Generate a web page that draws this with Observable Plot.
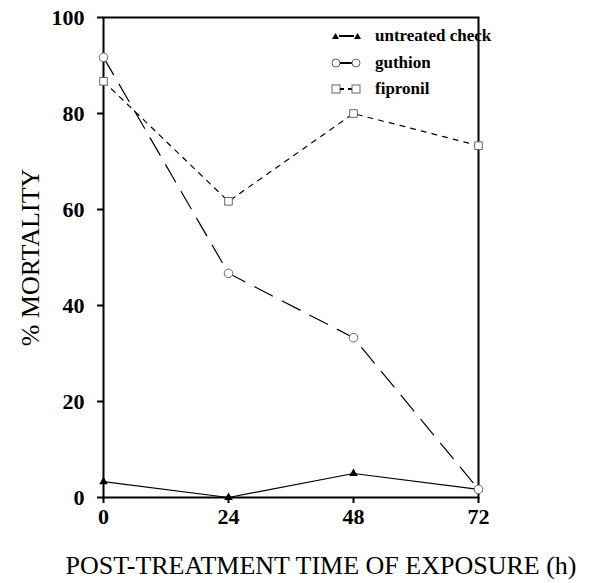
<!DOCTYPE html>
<html><head><meta charset="utf-8">
<script src="https://cdn.jsdelivr.net/npm/d3@7"></script>
<script src="https://cdn.jsdelivr.net/npm/@observablehq/plot@0.6"></script>
<style>
body{margin:0;background:#fff;}
#wrap{position:relative;width:593px;height:583px;font-family:"Liberation Serif","Times New Roman",serif;}
#legend{position:absolute;left:331px;top:23px;font-size:17px;font-weight:bold;color:#000;}
#legend .row{display:flex;align-items:center;height:26.5px;}
#legend svg{margin-right:13px;}
</style></head>
<body><div id="wrap"><div id="legend"></div></div>
<script>
const hours = [0, 24, 48, 72];
const untreated = [3.3, 0, 5.0, 1.7];
const guthion = [91.7, 46.7, 33.3, 1.7];
const fipronil = [86.7, 61.7, 80.0, 73.3];
const yTicks = [0, 20, 40, 60, 80, 100];
const seriesNames = ["untreated check", "guthion", "fipronil"];

const toRows = (vals) => hours.map((h, i) => ({h, v: vals[i]}));
const U = toRows(untreated), G = toRows(guthion), F = toRows(fipronil);

const font = '"Liberation Serif","Times New Roman",serif';
const chart = Plot.plot({
  width: 593, height: 583,
  marginLeft: 103, marginRight: 115, marginTop: 17, marginBottom: 86,
  style: {fontFamily: font, background: "#fff", color: "#000"},
  x: {domain: [0, 72]},
  y: {domain: [0, 100]},
  marks: [
    Plot.frame({stroke: "#000", strokeWidth: 2}),
    Plot.axisY({ticks: yTicks, tickSize: 6, tickPadding: 13, fontSize: 22, fontWeight: "bold", fontVariant: "normal", label: null, strokeWidth: 2}),
    Plot.axisX({ticks: hours, tickSize: 6, tickPadding: 5, fontSize: 22, fontWeight: "bold", fontVariant: "normal", label: null, strokeWidth: 2}),
    Plot.line(U, {x: "h", y: "v", stroke: "#000", strokeWidth: 1.2}),
    Plot.line(G, {x: "h", y: "v", stroke: "#000", strokeWidth: 1.2, strokeDasharray: "20,11"}),
    Plot.line(F, {x: "h", y: "v", stroke: "#000", strokeWidth: 1.2, strokeDasharray: "5,6"}),
    Plot.dot(U, {x: "h", y: "v", symbol: "triangle", r: 3.2, fill: "#000", stroke: "none"}),
    Plot.dot(G, {x: "h", y: "v", symbol: "circle", r: 4.3, fill: "#fff", stroke: "#666", strokeWidth: 1}),
    Plot.dot(F, {x: "h", y: "v", symbol: "square", r: 4.3, fill: "#fff", stroke: "#666", strokeWidth: 1}),
    Plot.text(["% MORTALITY"], {frameAnchor: "left", textAnchor: "middle", lineAnchor: "middle", dx: -73, rotate: -90, fontSize: 26, fill: "#000"}),
    Plot.text(["POST-TREATMENT TIME OF EXPOSURE (h)"], {frameAnchor: "bottom", textAnchor: "middle", lineAnchor: "middle", dx: 30, dy: 68, fontSize: 26, fill: "#000"})
  ]
});
// force the tick label face and size inline
chart.querySelectorAll('g[aria-label="y-axis tick label"] text, g[aria-label="x-axis tick label"] text').forEach(t => {
  t.style.fontFamily = font;
  t.style.fontSize = "22px";
  t.style.fontWeight = "bold";
  t.style.fontVariant = "normal";
});
document.getElementById("wrap").prepend(chart);

const sym = [
  '<polygon points="1,9 4.5,3 8,9" fill="#000"/><line x1="8" y1="6" x2="23" y2="6" stroke="#000" stroke-width="2"/><polygon points="23,9 26.5,3 30,9" fill="#000"/>',
  '<circle cx="5" cy="6" r="4" fill="#fff" stroke="#666"/><line x1="9" y1="6" x2="21" y2="6" stroke="#000" stroke-width="2"/><circle cx="25" cy="6" r="4" fill="#fff" stroke="#666"/>',
  '<rect x="1" y="2" width="8" height="8" fill="#fff" stroke="#666"/><line x1="9" y1="6" x2="13" y2="6" stroke="#000" stroke-width="2"/><line x1="17" y1="6" x2="21" y2="6" stroke="#000" stroke-width="2"/><rect x="21" y="2" width="8" height="8" fill="#fff" stroke="#666"/>'
];
const leg = document.getElementById("legend");
seriesNames.forEach((n, i) => {
  const r = document.createElement("div");
  r.className = "row";
  r.innerHTML = `<svg width="31" height="12">${sym[i]}</svg><span>${n}</span>`;
  leg.appendChild(r);
});
</script></body></html>
